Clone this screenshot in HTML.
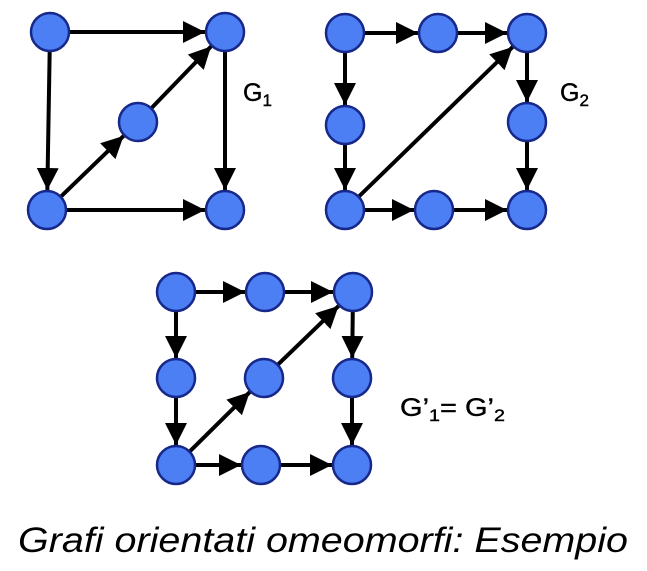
<!DOCTYPE html>
<html><head><meta charset="utf-8"><style>
html,body{margin:0;padding:0;background:#fff;}
svg{display:block;}
</style></head><body>
<svg width="647" height="571" viewBox="0 0 647 571">
<defs>
<marker id="ah" viewBox="0 0 10 10" refX="10" refY="5" markerWidth="5.5" markerHeight="5.5" markerUnits="strokeWidth" orient="auto">
<path d="M0,0 L10,5 L0,10 z" fill="#000"/>
</marker>
</defs>
<g id="edges"></g>
<g id="nodes"></g>
<text x="243" y="101" font-family="Liberation Sans, sans-serif" font-size="25" stroke="#000" stroke-width="0.4">G<tspan font-size="17" dy="5">1</tspan></text>
<text x="560" y="101" font-family="Liberation Sans, sans-serif" font-size="25" stroke="#000" stroke-width="0.4">G<tspan font-size="17" dy="5">2</tspan></text>
<text x="400" y="416" font-family="Liberation Sans, sans-serif" font-size="25" stroke="#000" stroke-width="0.4" textLength="105" lengthAdjust="spacingAndGlyphs">G’<tspan font-size="17" dy="5">1</tspan><tspan dy="-5">= G’</tspan><tspan font-size="17" dy="5">2</tspan></text>
<text x="18" y="552" font-family="Liberation Sans, sans-serif" font-style="italic" font-size="35" textLength="610" lengthAdjust="spacingAndGlyphs">Grafi orientati omeomorfi: Esempio</text>
</svg>
<script>
const g1Nodes = [[50,32],[225,32],[138,122],[47,210],[225,210]];
const g1Edges = [[0,1],[0,3],[3,2],[2,1],[1,4],[3,4]];
const g2Nodes = [[345,33],[438,33],[527,33],[345,125],[527,122],[345,210],[434,210],[527,210]];
const g2Edges = [[0,1],[1,2],[0,3],[3,5],[2,4],[4,7],[5,6],[6,7],[5,2]];
const g3Nodes = [[176,292],[265,292],[353,292],[176,378],[264,378],[352,378],[176,465],[261,465],[352,465]];
const g3Edges = [[0,1],[1,2],[0,3],[3,6],[2,5],[5,8],[6,7],[7,8],[6,4],[4,2]];
const NS = 'http://www.w3.org/2000/svg';
const R = 19;
const eg = document.getElementById('edges'), ng = document.getElementById('nodes');
function draw(nodes, edges, name){
  edges.forEach(([a,b],i)=>{
    const [x1,y1]=nodes[a],[x2,y2]=nodes[b];
    const dx=x2-x1, dy=y2-y1, L=Math.hypot(dx,dy), ux=dx/L, uy=dy/L;
    const l=document.createElementNS(NS,'line');
    l.setAttribute('x1',x1+ux*R); l.setAttribute('y1',y1+uy*R);
    l.setAttribute('x2',x2-ux*(R+1)); l.setAttribute('y2',y2-uy*(R+1));
    l.setAttribute('stroke','#000'); l.setAttribute('stroke-width','4');
    l.setAttribute('marker-end','url(#ah)');
    
    
    eg.appendChild(l);
  });
  nodes.forEach(([x,y],i)=>{
    const c=document.createElementNS(NS,'circle');
    c.setAttribute('cx',x); c.setAttribute('cy',y); c.setAttribute('r',R);
    c.setAttribute('fill','#4b7ff3'); c.setAttribute('stroke','#17288a'); c.setAttribute('stroke-width','2.5');
    
    
    ng.appendChild(c);
  });
}
draw(g1Nodes,g1Edges,'g1');
draw(g2Nodes,g2Edges,'g2');
draw(g3Nodes,g3Edges,'g-prime');
</script>
</body></html>
